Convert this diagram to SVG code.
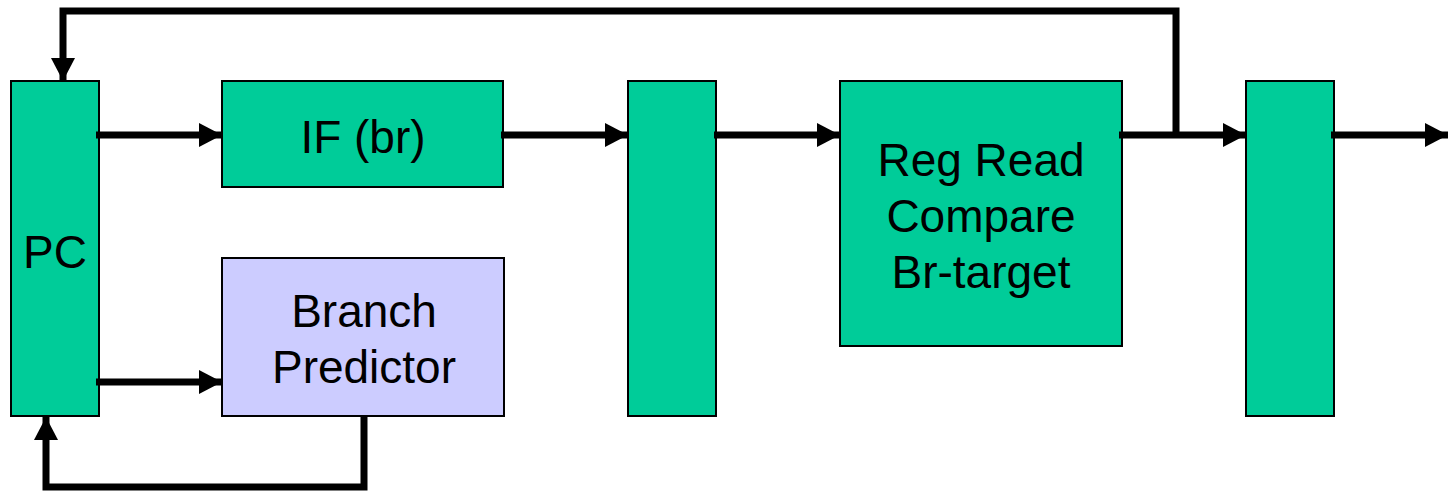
<svg xmlns="http://www.w3.org/2000/svg" width="1448" height="492" viewBox="0 0 1448 492">
<style>
.g{fill:#00CC99;stroke:#000;stroke-width:2}
.p{fill:#CCCCFF;stroke:#000;stroke-width:2}
.t{font-family:"Liberation Sans",Arial,sans-serif;font-size:46px;fill:#000;text-anchor:middle}
.c{fill:none;stroke:#000;stroke-width:7}
</style>
<defs>
<marker id="ah" markerUnits="userSpaceOnUse" markerWidth="24" markerHeight="24" refX="23" refY="12" orient="auto">
<path d="M0,0 L23,12 L0,24 Z" fill="#000"/>
</marker>
</defs>
<rect width="1448" height="492" fill="#fff"/>
<g id="pc"><rect class="g" x="11" y="81" width="88" height="335"/><text class="t" x="55" y="268">PC</text></g>
<g id="if"><rect class="g" x="222" y="81" width="281" height="106"/><text class="t" x="363" y="153">IF (br)</text></g>
<g id="bp"><rect class="p" x="222" y="258" width="282" height="158"/><text class="t" x="364" y="327">Branch</text><text class="t" x="364" y="383">Predictor</text></g>
<g id="reg1"><rect class="g" x="628" y="81" width="88" height="335"/></g>
<g id="rr"><rect class="g" x="840" y="81" width="282" height="265"/><text class="t" x="981" y="176">Reg Read</text><text class="t" x="981" y="232">Compare</text><text class="t" x="981" y="288">Br-target</text></g>
<g id="reg2"><rect class="g" x="1246" y="81" width="88" height="335"/></g>
<g id="connectors">
<path class="c" d="M96,135 H222" marker-end="url(#ah)"/>
<path class="c" d="M501,135 H628" marker-end="url(#ah)"/>
<path class="c" d="M714,135 H840" marker-end="url(#ah)"/>
<path class="c" d="M1119,135 H1246" marker-end="url(#ah)"/>
<path class="c" d="M1331,135 H1448" marker-end="url(#ah)"/>
<path class="c" d="M1176,135 V11 H63 V81" marker-end="url(#ah)"/>
<path class="c" d="M96,382 H222" marker-end="url(#ah)"/>
<path class="c" d="M364,416 V487 H46 V417" marker-end="url(#ah)"/>
</g>
</svg>
